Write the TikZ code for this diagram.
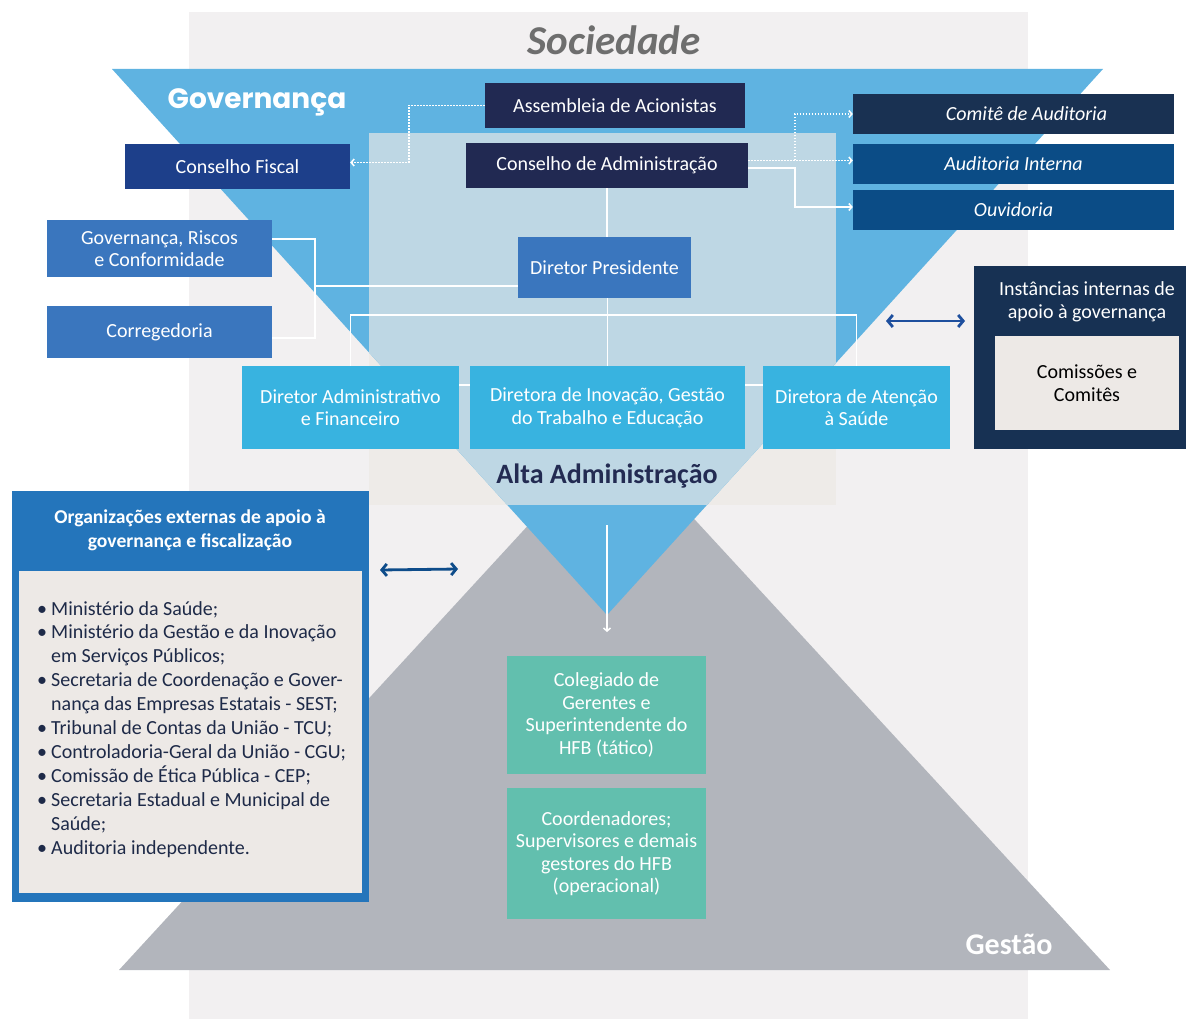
\documentclass[tikz,border=0pt]{standalone}
\usepackage{fontspec}
\setmainfont{Carlito}
\newfontfamily\poppins{Poppins}
\usetikzlibrary{arrows.meta}

\definecolor{fundosoc}{HTML}{F2F0F1}
\definecolor{triangulo}{HTML}{5FB3E1}
\definecolor{painel}{HTML}{EEEBE8}
\definecolor{paineltri}{HTML}{BED7E4}
\definecolor{cinzagestao}{HTML}{B2B5BC}
\definecolor{marinho}{HTML}{212952}
\definecolor{fiscalcor}{HTML}{1D3F8A}
\definecolor{comitecor}{HTML}{193152}
\definecolor{auditcor}{HTML}{0B4C86}
\definecolor{azulmedio}{HTML}{3A76BE}
\definecolor{diretorcor}{HTML}{38B3E0}
\definecolor{instcor}{HTML}{173153}
\definecolor{bege}{HTML}{EDE9E6}
\definecolor{orgcor}{HTML}{2475BB}
\definecolor{verde}{HTML}{62BFAE}
\definecolor{textosoc}{HTML}{6E6E6E}
\definecolor{textoalta}{HTML}{232B52}
\definecolor{listacor}{HTML}{1E2A48}
\definecolor{setainst}{HTML}{1E4F9E}
\definecolor{setaorg}{HTML}{0E4C8A}

\newcommand\fs{\fontsize{20}{22.5}\selectfont}
\newcommand\itm{\makebox[14pt][l]{\textbullet}}
\newcommand\cnt{\hspace*{14pt}}

\pgfdeclarelayer{fundo}
\pgfdeclarelayer{fios}
\pgfsetlayers{fundo,fios,main}

\begin{document}
\begin{tikzpicture}[x=1pt,y=-1pt,
  caixa/.style={rectangle, inner sep=0pt, align=center, text=white, font=\fs},
  caixamarinho/.style={caixa, fill=marinho},
  caixaaudit/.style={caixa, fill=auditcor, font=\fs\itshape, minimum width=321, minimum height=40},
  caixaazul/.style={caixa, fill=azulmedio},
  caixadir/.style={caixa, fill=diretorcor, minimum height=83},
  caixaverde/.style={caixa, fill=verde, minimum width=199},
  fio/.style={white, line width=1.5pt},
  pontilhado/.style={white, line width=1.5pt, dash pattern=on 1.5pt off 1.5pt},
  ponta/.style={-{Straight Barb[length=3pt,width=7pt]}},
  duplaseta/.style={line width=2.8pt, {Straight Barb[length=5pt,width=12pt]}-{Straight Barb[length=5pt,width=12pt]}}]

\useasboundingbox (0,0) rectangle (1186,1019);

% fundo
\begin{pgfonlayer}{fundo}
\fill[fundosoc] (189,12) rectangle (1028,1019);
\fill[cinzagestao] (119,970) -- (614,432) -- (1110,970) -- cycle;
\fill[painel] (369,133) rectangle (836,505);
\fill[triangulo] (112,69) -- (1103,69) -- (607,615) -- cycle;
\begin{scope}
\clip (112,69) -- (1103,69) -- (607,615) -- cycle;
\fill[paineltri] (369,133) rectangle (836,505);
\end{scope}
\end{pgfonlayer}

% titulos
\node[text=textosoc, font=\fontsize{41}{45}\selectfont\bfseries\itshape] (sociedade) at (614,40) {Sociedade};
\node[text=white, font=\poppins\fontsize{28}{30}\selectfont\bfseries] (governanca) at (257,102) {Governança};
\node[text=textoalta, font=\fontsize{28}{30}\selectfont\bfseries] (alta) at (607,476) {Alta Administração};
\node[text=white, font=\fontsize{30}{32}\selectfont\bfseries] (gestao) at (1009,944) {Gestão};

% governanca
\node[caixamarinho, minimum width=260, minimum height=45] (assembleia) at (615,105.5) {Assembleia de Acionistas};
\node[caixamarinho, minimum width=282, minimum height=45] (conselhoadm) at (607,165.5) {Conselho de Administração};
\node[caixa, fill=fiscalcor, minimum width=225, minimum height=45] (fiscal) at (237.5,166.5) {Conselho Fiscal};
\node[caixaaudit, fill=comitecor] (comite) at (1013.5,114) {\hspace*{26pt}Comitê de Auditoria};
\node[caixaaudit] (audint) at (1013.5,164) {Auditoria Interna};
\node[caixaaudit] (ouvidoria) at (1013.5,210) {Ouvidoria};

\node[caixaazul, minimum width=225, minimum height=57] (grc) at (159.5,248.5) {Governança, Riscos\\e Conformidade};
\node[caixaazul, minimum width=225, minimum height=52] (corregedoria) at (159.5,332) {Corregedoria};
\node[caixaazul, minimum width=173, minimum height=61] (presidente) at (604.5,267.5) {Diretor Presidente};

\node[caixadir, minimum width=217] (dirAdm) at (350.5,407.5) {Diretor Administrativo\\e Financeiro};
\node[caixadir, minimum width=275] (dirInov) at (607.5,407.5) {Diretora de Inovação, Gestão\\do Trabalho e Educação};
\node[caixadir, minimum width=187] (dirAten) at (856.5,407.5) {Diretora de Atenção\\à Saúde};

% instancias internas
\node[caixa, fill=instcor, minimum width=212, minimum height=183] (instancias) at (1080,357.5) {};
\node[caixa] (instTitulo) at (1087,302) {Instâncias internas de\\apoio à governança};
\node[caixa, fill=bege, text=black, minimum width=184, minimum height=94] (comissoes) at (1087,383) {Comissões e\\Comitês};

% organizacoes externas
\node[caixa, fill=orgcor, minimum width=357, minimum height=411] (orgext) at (190.5,696.5) {};
\node[caixa, font=\fontsize{19.6}{24}\selectfont\bfseries] (orgTitulo) at (190,530) {Organizações externas de apoio à\\governança e fiscalização};
\node[caixa, fill=bege, minimum width=343, minimum height=322] (orgLista) at (190.5,732) {};
\node[anchor=north west, align=left, inner sep=0pt, text=listacor, font=\fontsize{20}{23.9}\selectfont] (orgItens) at (37,601) {%
\itm Ministério da Saúde;\\
\itm Ministério da Gestão e da Inovação\\
\cnt em Serviços Públicos;\\
\itm Secretaria de Coordenação e Gover-\\
\cnt nança das Empresas Estatais - SEST;\\
\itm Tribunal de Contas da União - TCU;\\
\itm Controladoria-Geral da União - CGU;\\
\itm Comissão de Ética Pública - CEP;\\
\itm Secretaria Estadual e Municipal de\\
\cnt Saúde;\\
\itm Auditoria independente.};

% gestao
\node[caixaverde, minimum height=118] (colegiado) at (606.5,715) {Colegiado de\\Gerentes e\\Superintendente do\\HFB (tático)};
\node[caixaverde, minimum height=131] (coordenadores) at (606.5,853.5) {Coordenadores;\\Supervisores e demais\\gestores do HFB\\(operacional)};

\coordinate (ramo) at (795,160.5);
\coordinate (juncao) at (315,286);
\coordinate (setaIni) at (607,525);
\coordinate (setaFim) at (607,632);
\coordinate (instA) at (886,321);
\coordinate (instB) at (965,321);
\coordinate (orgA) at (380,570);
\coordinate (orgB) at (458,569);

\begin{pgfonlayer}{fios}
\draw[pontilhado, ponta] (assembleia.west) -- ++(-76,0) |- ([yshift=4pt]fiscal.east);
\draw[pontilhado, ponta] ([yshift=5pt]conselhoadm.east) -- ([yshift=3.5pt]audint.west);
\draw[pontilhado, ponta] (ramo) |- (comite.west);
\draw[fio, ponta] ([yshift=-2.5pt]conselhoadm.east) -- ++(47,0) |- ([yshift=3pt]ouvidoria.west);

\draw[fio] (conselhoadm.south) -- (conselhoadm.south |- presidente.north);
\draw[fio] (presidente.south -| dirInov.north) -- (dirInov.north);
\draw[fio] (dirAdm.north) -- ++(0,-51) -| (dirAten.north);
\draw[fio] ([yshift=22.5pt]dirAdm.east) -- ([yshift=22.5pt]dirAten.west);

\draw[fio] ([yshift=9.5pt]grc.east) -- ++(43,0) |- ([yshift=-6pt]corregedoria.east);
\draw[fio] (juncao) -- (juncao -| presidente.west);
\end{pgfonlayer}

\draw[fio, ponta] (setaIni) -- (setaFim);
\draw[duplaseta, setainst] (instA) -- (instB);
\draw[duplaseta, setaorg] (orgA) -- (orgB);

\end{tikzpicture}
\end{document}
